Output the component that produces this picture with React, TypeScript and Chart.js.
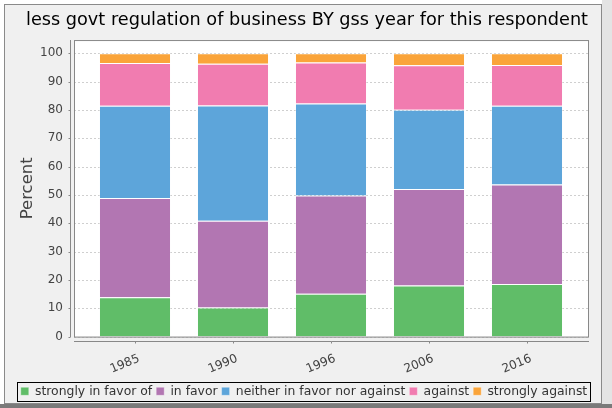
import React, { useEffect, useRef } from "react";
import { Chart, registerables } from "chart.js";

Chart.register(...registerables);

const TITLE = "less govt regulation of business BY gss year for this respondent";
const Y_TITLE = "Percent";
const YEARS = ["1985", "1990", "1996", "2006", "2016"];
const SERIES_NAMES = [
  "strongly in favor of",
  "in favor",
  "neither in favor nor against",
  "against",
  "strongly against",
];
const STRONGLY_FAVOR = [13.9, 10.3, 15.1, 18.0, 18.6];
const IN_FAVOR = [35.0, 30.6, 34.7, 34.1, 35.1];
const NEITHER = [32.6, 40.7, 32.5, 28.0, 27.8];
const AGAINST = [15.1, 14.7, 14.5, 15.7, 14.4];
const STRONGLY_AGAINST = [3.4, 3.7, 3.2, 4.2, 4.1];
const Y_TICKS = [0, 10, 20, 30, 40, 50, 60, 70, 80, 90, 100];
const COLORS = ["#60bd68", "#b276b2", "#5da5da", "#f17cb0", "#faa43a"];

const FONT = "'DejaVu Sans', sans-serif";

const framePlugin = {
  id: "framePlugin",
  afterLayout(chart: any) {
    const tb = chart.titleBlock;
    if (tb) {
      tb.left = 0;
      tb.right = 614;
      tb.width = 614;
    }
    const lg = chart.legend;
    if (lg) {
      lg.left = 0;
      lg.right = 608;
      lg.width = 608;
    }
  },
  beforeDraw(chart: any) {
    const { ctx, width, height } = chart;
    ctx.save();
    ctx.fillStyle = "#ffffff";
    ctx.fillRect(0, 0, width, height);
    ctx.fillStyle = "#e4e4e4";
    ctx.fillRect(602, 0, width - 602, height);
    ctx.fillStyle = "#f0f0f0";
    ctx.fillRect(5, 5, 597, 399);
    ctx.strokeStyle = "#8a8a8a";
    ctx.lineWidth = 1;
    ctx.strokeRect(4.5, 4.5, 597, 399);
    ctx.fillStyle = "#7a7a7a";
    ctx.fillRect(0, 404, width, height - 404);
    ctx.restore();
  },
  beforeDatasetsDraw(chart: any) {
    const { ctx, chartArea, scales } = chart;
    const y = scales.y;
    const left = chartArea.left - 12;
    const right = chartArea.right + 13;
    ctx.save();
    ctx.fillStyle = "#ffffff";
    ctx.fillRect(left, chartArea.top, right - left, chartArea.bottom - chartArea.top);
    ctx.strokeStyle = "#cfcfcf";
    ctx.lineWidth = 1;
    ctx.setLineDash([2, 2]);
    y.ticks.forEach((t: any) => {
      const py = Math.round(y.getPixelForValue(t.value)) + 0.5;
      ctx.beginPath();
      ctx.moveTo(left, py);
      ctx.lineTo(right, py);
      ctx.stroke();
    });
    ctx.restore();
  },
  afterDatasetsDraw(chart: any) {
    const { ctx, chartArea, scales } = chart;
    const x = scales.x;
    const y = scales.y;
    const left = chartArea.left - 12;
    const right = chartArea.right + 13;
    ctx.save();
    ctx.strokeStyle = "#888888";
    ctx.lineWidth = 1;
    ctx.strokeRect(left + 0.5, chartArea.top + 0.5, right - left - 1, chartArea.bottom - chartArea.top);
    const ax = left - 4 + 0.5;
    ctx.beginPath();
    ctx.moveTo(ax, chartArea.top);
    ctx.lineTo(ax, chartArea.bottom + 0.5);
    ctx.stroke();
    y.ticks.forEach((t: any) => {
      const py = Math.round(y.getPixelForValue(t.value)) + 0.5;
      ctx.beginPath();
      ctx.moveTo(ax - 2, py);
      ctx.lineTo(ax, py);
      ctx.stroke();
    });
    const ay = Math.round(chartArea.bottom) + 4 + 0.5;
    ctx.beginPath();
    ctx.moveTo(left, ay);
    ctx.lineTo(right, ay);
    ctx.stroke();
    YEARS.forEach((_, i) => {
      const px = Math.round(x.getPixelForValue(i)) + 0.5;
      ctx.beginPath();
      ctx.moveTo(px, ay);
      ctx.lineTo(px, ay + 2);
      ctx.stroke();
    });
    ctx.restore();
  },
  afterDraw(chart: any) {
    const legend = chart.legend;
    if (!legend || !legend.legendHitBoxes || !legend.legendHitBoxes.length) return;
    const boxes = legend.legendHitBoxes;
    const l = Math.min(...boxes.map((b: any) => b.left)) - 3.5;
    const r = Math.max(...boxes.map((b: any) => b.left + b.width)) + 3.5;
    const t = Math.min(...boxes.map((b: any) => b.top)) - 3.5;
    const bt = Math.max(...boxes.map((b: any) => b.top + b.height)) + 3.5;
    const { ctx } = chart;
    ctx.save();
    ctx.strokeStyle = "#000000";
    ctx.lineWidth = 1;
    ctx.strokeRect(Math.round(l) + 0.5, Math.round(t) + 0.5, Math.round(r - l), Math.round(bt - t));
    ctx.restore();
  },
  beforeLegendDraw(chart: any) {
    const legend = chart.legend;
    if (!legend || !legend.legendHitBoxes || !legend.legendHitBoxes.length) return;
    const { ctx } = chart;
    const boxes = legend.legendHitBoxes;
    const lw = legend.lineWidths[0];
    const padding = legend.options.labels.padding;
    const startX = (legend.left + padding + legend.right - lw) / 2;
    const itemH = boxes[0].height;
    const top = legend.top + padding;
    const totalW = boxes.reduce((s: number, b: any) => s + b.width + padding, 0) - padding;
    ctx.save();
    ctx.fillStyle = "#ffffff";
    ctx.fillRect(startX - 3.5, top - 3.5, totalW + 7, itemH + 7);
    ctx.restore();
  },
};

export default function App() {
  const ref = useRef<HTMLCanvasElement | null>(null);
  useEffect(() => {
    document.body.style.margin = "0";
    if (!ref.current) return;
    const data = [STRONGLY_FAVOR, IN_FAVOR, NEITHER, AGAINST, STRONGLY_AGAINST];
    const chart = new Chart(ref.current, {
      type: "bar",
      data: {
        labels: YEARS,
        datasets: data.map((d, i) => ({
          label: SERIES_NAMES[i],
          data: d,
          backgroundColor: COLORS[i],
          borderColor: "rgba(255,255,255,0.35)",
          borderWidth: 1,
          categoryPercentage: 1,
          barPercentage: 0.735,
        })),
      },
      options: {
        responsive: false,
        animation: false,
        devicePixelRatio: 1,
        layout: { padding: { left: 0, right: 0, top: 0, bottom: 0.5 } },
        plugins: {
          title: {
            display: true,
            text: TITLE,
            color: "#000000",
            font: { family: FONT, size: 17.7, weight: "normal" },
            padding: { top: 10, bottom: 8.8 },
          },
          legend: {
            position: "bottom",
            labels: {
              boxWidth: 8,
              boxHeight: 8,
              padding: 4,
              color: "#333333",
              font: { family: FONT, size: 12.4 },
            },
          },
          tooltip: { enabled: false },
        },
        scales: {
          x: {
            stacked: true,
            grid: { display: false, drawTicks: false },
            border: { display: false },
            ticks: {
              autoSkip: false,
              minRotation: 22.5,
              maxRotation: 22.5,
              padding: 15,
              labelOffset: 4,
              color: "#444444",
              font: { family: FONT, size: 12 },
            },
            afterFit(scale: any) {
              scale.height = 44.5;
            },
          },
          y: {
            stacked: true,
            min: 0,
            max: 104.7,
            grid: { display: false, drawTicks: false },
            border: { display: false },
            ticks: {
              padding: 23,
              color: "#444444",
              font: { family: FONT, size: 12 },
            },
            afterBuildTicks(scale: any) {
              scale.ticks = Y_TICKS.map((v) => ({ value: v }));
            },
            afterFit(scale: any) {
              scale.width = 86;
            },
            title: {
              display: true,
              text: Y_TITLE,
              color: "#444444",
              font: { family: FONT, size: 16.5 },
              padding: { top: 18.1, bottom: 4 },
            },
          },
          yRight: {
            type: "linear",
            position: "right",
            display: true,
            grid: { display: false, drawTicks: false },
            border: { display: false },
            ticks: { display: false },
            afterFit(scale: any) {
              scale.width = 36;
            },
          },
        },
      },
      plugins: [framePlugin as any],
    });
    return () => chart.destroy();
  }, []);
  return (
    <div style={{ position: "absolute", left: 0, top: 0, width: 612, height: 408 }}>
      <canvas ref={ref} width={612} height={408} />
    </div>
  );
}
